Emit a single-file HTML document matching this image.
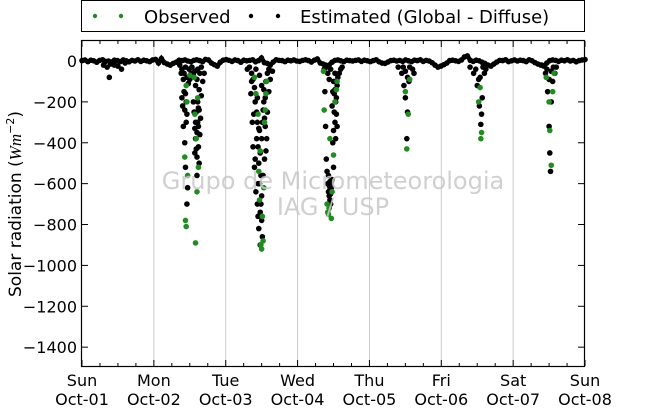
<!DOCTYPE html>
<html><head><meta charset="utf-8">
<style>
html,body{margin:0;padding:0;background:#fff;}
body{width:650px;height:409px;overflow:hidden;font-family:"Liberation Sans","DejaVu Sans",sans-serif;}
svg text{font-family:"DejaVu Sans","Liberation Sans",sans-serif;}
</style></head>
<body>
<svg id="chart" width="650" height="409" xmlns="http://www.w3.org/2000/svg">
<rect x="0" y="0" width="650" height="409" fill="#fff"/>
<g id="grid"></g>
<g id="points"></g>
<g fill="#c8c8c8" fill-opacity="0.85" font-size="24" text-anchor="middle">
<text x="333" y="189">Grupo de Micrometeorologia</text>
<text x="333" y="215">IAG / USP</text>
</g>
<rect x="81.5" y="40.5" width="503" height="326" fill="none" stroke="#000" stroke-width="1.2"/>
<g id="axes"></g>
<text transform="translate(21,204) rotate(-90)" text-anchor="middle" font-size="17">Solar radiation (<tspan font-style="italic" font-family="Liberation Serif,serif">Wm</tspan><tspan font-size="11" dy="-7">−2</tspan><tspan dy="7">)</tspan></text>
<g>
<rect x="81.5" y="0.5" width="503" height="31" fill="#fff" stroke="#000" stroke-width="1"/>
<circle cx="95" cy="16" r="2.2" fill="#228b22"/>
<circle cx="121" cy="16" r="2.2" fill="#228b22"/>
<text x="144" y="23" font-size="18">Observed</text>
<circle cx="251" cy="16" r="2.2" fill="#000"/>
<circle cx="278" cy="16" r="2.2" fill="#000"/>
<text x="300" y="23" font-size="18">Estimated (Global - Diffuse)</text>
</g>
</svg>
<script>
const dayLabels=["Sun","Mon","Tue","Wed","Thu","Fri","Sat","Sun"];
const dateLabels=["Oct-01","Oct-02","Oct-03","Oct-04","Oct-05","Oct-06","Oct-07","Oct-08"];
const yTicks=[0,-200,-400,-600,-800,-1000,-1200,-1400];
const baseline=[2,5,-3,4,1,-6,3,6,-2,0,-5,4,2,-3,5,1,-4,3,0,6,-2,4,1,-3,5,8,-10,12,-8,-15,-20,-12,-6,4,2,5,0,-4,3,6,2,-3,8,5,-10,-18,-25,-6,4,7,3,-2,5,2,-6,4,1,3,6,-4,2,15,-8,-12,-20,-5,6,3,2,-3,4,1,5,0,-2,3,6,2,-5,4,10,-10,-15,-30,-20,-6,3,5,1,-3,4,2,0,3,5,-2,4,1,-3,2,6,-4,-10,-12,-5,2,4,0,3,-2,5,1,-3,4,2,6,-2,3,0,-8,-20,-30,-25,-18,-10,2,4,1,-2,5,20,25,3,-2,4,1,-6,-12,-20,-25,-15,-5,3,2,6,-3,1,5,0,4,2,-3,6,1,-8,-15,-20,-25,-10,2,5,3,-2,4,1,6,0,3,-4,2,5,7];
const estimatedPts=[[0.35,-30],[0.38,-80],[0.45,-20],[0.55,-40],[0.4,-15],[0.5,-25],[0.6,-10],[0.3,-20],
[1.38,-60],[1.39,-180],[1.4,-220],[1.42,-150],[1.43,-400],[1.44,-520],[1.45,-300],[1.46,-260],[1.47,-620],[1.48,-110],[1.5,-90],[1.52,-60],[1.55,-200],[1.56,-250],[1.57,-330],[1.58,-380],[1.59,-430],[1.6,-470],[1.61,-300],[1.62,-420],[1.63,-500],[1.64,-360],[1.65,-280],[1.66,-170],[1.68,-100],[1.7,-60],[1.41,-320],[1.46,-700],[1.57,-450],[1.6,-350],[1.62,-230],
[1.36,-20],[1.39,-40],[1.41,-90],[1.42,-60],[1.44,-30],[1.46,-80],[1.49,-40],[1.53,-30],[1.55,-70],[1.57,-50],[1.58,-120],[1.6,-90],[1.61,-40],[1.63,-140],[1.64,-60],[1.66,-30],[1.44,-160],[1.45,-200],[1.59,-250],[1.61,-200],[1.62,-320],[1.58,-300],[1.6,-560],[1.63,-240],[1.43,-240],
[2.3,-40],[2.35,-160],[2.37,-300],[2.38,-420],[2.39,-260],[2.4,-520],[2.41,-480],[2.42,-640],[2.43,-380],[2.44,-700],[2.45,-760],[2.46,-820],[2.47,-600],[2.48,-900],[2.5,-780],[2.52,-560],[2.53,-200],[2.55,-320],[2.56,-440],[2.57,-380],[2.58,-250],[2.6,-150],[2.62,-90],[2.65,-50],[2.44,-180],[2.46,-330],[2.5,-660],[2.51,-860],[2.54,-480],[2.36,-100],
[2.33,-30],[2.36,-60],[2.38,-90],[2.4,-130],[2.41,-200],[2.43,-250],[2.44,-300],[2.45,-420],[2.46,-500],[2.47,-340],[2.48,-450],[2.49,-560],[2.5,-380],[2.51,-300],[2.52,-240],[2.53,-140],[2.54,-280],[2.55,-180],[2.56,-100],[2.58,-60],[2.6,-40],[2.42,-40],[2.47,-70],[2.5,-120],[2.45,-600],[2.49,-700],[2.48,-740],
[3.37,-40],[3.38,-150],[3.39,-320],[3.4,-480],[3.41,-540],[3.42,-600],[3.43,-640],[3.44,-660],[3.45,-680],[3.46,-700],[3.47,-620],[3.48,-580],[3.5,-520],[3.52,-300],[3.54,-180],[3.55,-120],[3.56,-80],[3.58,-60],[3.6,-40],[3.62,-30],[3.53,-380],[3.43,-560],[3.44,-610],[3.46,-650],[3.49,-400],[3.51,-250],
[3.39,-20],[3.42,-60],[3.44,-90],[3.46,-40],[3.48,-220],[3.49,-150],[3.5,-100],[3.51,-160],[3.52,-60],[3.53,-200],[3.54,-260],[3.55,-320],[3.5,-340],[3.52,-140],[3.53,-100],[3.45,-630],[3.46,-610],[3.47,-590],[3.44,-720],[3.45,-590],
[4.4,-30],[4.45,-60],[4.48,-120],[4.5,-180],[4.52,-380],[4.53,-250],[4.55,-100],[4.6,-40],[4.62,-60],[4.47,-30],[4.5,-50],[4.53,-80],[4.56,-30],
[5.4,-30],[5.45,-60],[5.5,-120],[5.53,-220],[5.55,-310],[5.56,-260],[5.57,-180],[5.6,-60],[5.62,-40],[5.52,-90],[5.48,-40],[5.54,-80],[5.58,-30],
[6.4,-20],[6.45,-60],[6.48,-150],[6.5,-320],[6.51,-450],[6.52,-540],[6.53,-200],[6.55,-100],[6.58,-60],[6.6,-30],[6.47,-40],[6.5,-90],[6.53,-50],[6.56,-30]];
const observedPts=[[1.43,-470],[1.44,-780],[1.45,-810],[1.47,-560],[1.5,-70],[1.58,-890],[1.6,-640],[1.62,-520],[1.59,-380],[1.46,-200],[1.56,-80],[1.45,-120],[1.61,-180],[1.57,-260],
[2.45,-260],[2.47,-680],[2.49,-900],[2.5,-920],[2.52,-880],[2.53,-620],[2.55,-240],[2.56,-160],[2.42,-160],[2.48,-440],[2.57,-100],[2.4,-80],[2.46,-540],[2.51,-760],[2.54,-300],
[3.36,-50],[3.37,-240],[3.41,-700],[3.42,-740],[3.43,-750],[3.44,-720],[3.47,-770],[3.48,-640],[3.5,-460],[3.52,-200],[3.55,-100],[3.45,-380],[3.54,-140],
[4.5,-150],[4.52,-430],[4.54,-260],[4.56,-90],
[5.52,-200],[5.55,-380],[5.56,-350],[5.54,-130],
[6.46,-80],[6.5,-200],[6.51,-340],[6.53,-510],[6.55,-150],[6.57,-60]];
const X0=82,DAYW=71.86;
function xs(d){return X0+d*DAYW;}
function ys(v){return 61-v*0.2044;}
const NS="http://www.w3.org/2000/svg";
function mk(t,a,p){const e=document.createElementNS(NS,t);for(const k in a)e.setAttribute(k,a[k]);p.appendChild(e);return e;}
const grid=document.getElementById('grid'),axes=document.getElementById('axes'),pts=document.getElementById('points');
for(let i=1;i<7;i++){const g=mk('line',{x1:xs(i),x2:xs(i),y1:41,y2:366,stroke:'#ccc','stroke-width':1},grid);

}
for(let i=0;i<=7;i++){
 for(let q=0;q<4;q++){const x=xs(i+q/4);if(i==7&&q>0)break;const L=q==0?6:3;
  mk('line',{x1:x,x2:x,y1:366,y2:366-L,stroke:'#000'},axes);mk('line',{x1:x,x2:x,y1:41,y2:41+L,stroke:'#000'},axes);}
 const t=mk('text',{x:xs(i),y:386,'text-anchor':'middle','font-size':16},axes);t.textContent=dayLabels[i];
 
 
 const t2=mk('text',{x:xs(i),y:405,'text-anchor':'middle','font-size':16},axes);t2.textContent=dateLabels[i];
 
 
}
yTicks.forEach(v=>{const y=ys(v);mk('line',{x1:82,x2:88,y1:y,y2:y,stroke:'#000'},axes);mk('line',{x1:584,x2:578,y1:y,y2:y,stroke:'#000'},axes);
 const t=mk('text',{x:77,y:y+6,'text-anchor':'end','font-size':16},axes);t.textContent=v<0?'\u2212'+(-v):v;
 
 });
let d='';baseline.forEach((v,i)=>{const x=xs(i*7/(baseline.length-1));d+=(i?'L':'M')+x.toFixed(1)+','+ys(v).toFixed(1);});
const bl=mk('path',{d:d,fill:'none',stroke:'#000','stroke-width':4.5},pts);


baseline.forEach((v,i)=>{const c=mk('circle',{cx:xs(i*7/(baseline.length-1)),cy:ys(v),r:2.8,fill:'#000'},pts);
 
 });
estimatedPts.forEach(p=>{const c=mk('circle',{cx:xs(p[0]),cy:ys(p[1]),r:2.8,fill:'#000'},pts);
 
 });
observedPts.forEach(p=>{const c=mk('circle',{cx:xs(p[0]),cy:ys(p[1]),r:2.8,fill:'#228b22'},pts);
 
 });
</script>
</body></html>
